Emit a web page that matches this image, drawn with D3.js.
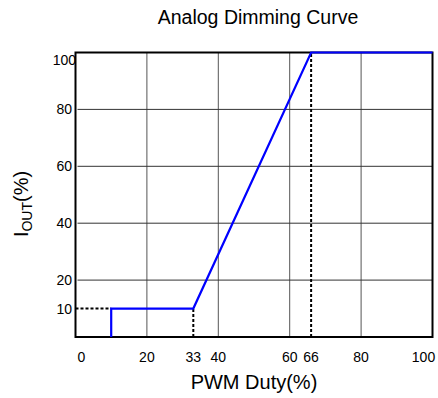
<!DOCTYPE html>
<html><head><meta charset="utf-8">
<script src="https://cdn.jsdelivr.net/npm/d3@7"></script>
<style>body{margin:0;background:#fff}svg{font-family:"Liberation Sans",Arial,sans-serif}</style>
</head><body>
<svg id="c" width="438" height="398"></svg>
<script>
const duty = [10, 10, 33, 66, 100];
const iout = [0, 10, 10, 100, 100];
const xTicks = [0, 20, 33, 40, 60, 66, 80, 100];
const yTicks = [10, 20, 40, 60, 80, 100];
const xGrid = [20, 40, 60, 80];
const yGrid = [20, 40, 60, 80];
const guides = [[[0,10],[10,10]], [[33,0],[33,10]], [[66,0],[66,100]]];

const svg = d3.select("#c");
const x = d3.scaleLinear().domain([0,100]).range([75.5,432.5]);
const y = d3.scaleLinear().domain([0,100]).range([337,52.5]);

svg.append("g").selectAll("line").data(xGrid).join("line")
  .attr("x1",d=>x(d)).attr("x2",d=>x(d)).attr("y1",y(100)).attr("y2",y(0))
  .attr("stroke","#555").attr("stroke-width",1);
svg.append("g").selectAll("line").data(yGrid).join("line")
  .attr("x1",x(0)+2).attr("x2",x(100)).attr("y1",d=>y(d)).attr("y2",d=>y(d))
  .attr("stroke","#333").attr("stroke-width",1);

svg.append("rect").attr("x",x(0)).attr("y",y(100)).attr("width",x(100)-x(0)).attr("height",y(0)-y(100))
  .attr("fill","none").attr("stroke","#000").attr("stroke-width",2);

const line = d3.line().x(d=>x(d[0])).y(d=>y(d[1]));
svg.append("g").selectAll("path").data(guides).join("path")
  .attr("d",line).attr("fill","none").attr("stroke","#000").attr("stroke-width",2).attr("stroke-dasharray","3,2");

svg.append("path").datum(duty.map((d,i)=>[d,iout[i]])).attr("d",line)
  .attr("fill","none").attr("stroke","#0000ff").attr("stroke-width",2.2);

svg.append("g").selectAll("text").data(xTicks).join("text")
  .attr("x",d=> d===0 ? x(d)+6 : d===100 ? x(d)-9 : x(d))
  .attr("y",362).attr("text-anchor","middle").attr("font-size",14).attr("fill","#000").text(d=>d);
svg.append("g").selectAll("text").data(yTicks).join("text")
  .attr("x",d=> d===100 ? 76 : 72).attr("y",d=> d===100 ? y(d)+12 : y(d)+5)
  .attr("text-anchor","end").attr("font-size",14).attr("fill","#000").text(d=>d);

svg.append("text").attr("x",258).attr("y",24).attr("text-anchor","middle").attr("font-size",19.5).text("Analog Dimming Curve");
svg.append("text").attr("x",254).attr("y",389).attr("text-anchor","middle").attr("font-size",20).text("PWM Duty(%)");
const yl = svg.append("text").attr("transform","translate(28,204) rotate(-90)").attr("text-anchor","middle").attr("font-size",20);
yl.append("tspan").text("I");
yl.append("tspan").attr("font-size",14).attr("dy",4).text("OUT");
yl.append("tspan").attr("dy",-4).text("(%)");
</script>
</body></html>
